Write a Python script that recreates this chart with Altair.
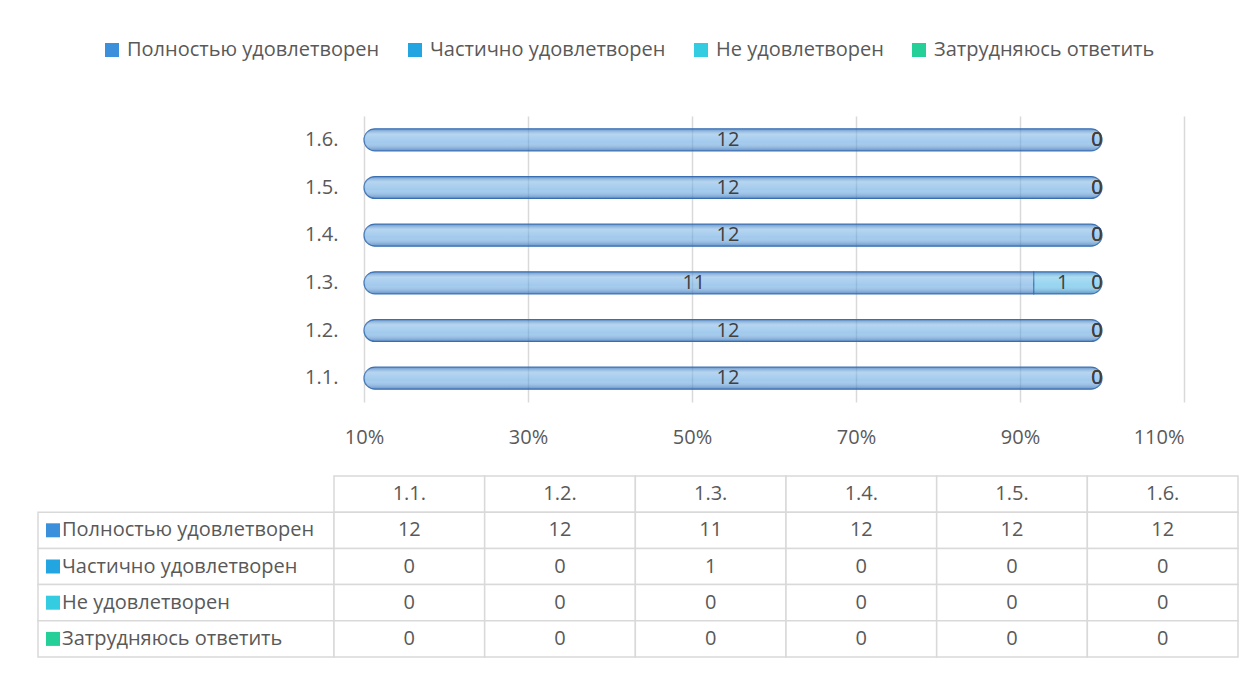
import altair as alt
import pandas as pd

# ---------------- data ----------------
categories = ["1.1.", "1.2.", "1.3.", "1.4.", "1.5.", "1.6."]
series = ["Полностью удовлетворен", "Частично удовлетворен", "Не удовлетворен", "Затрудняюсь ответить"]
fully = [12, 12, 11, 12, 12, 12]
partly = [0, 0, 1, 0, 0, 0]
not_satisfied = [0, 0, 0, 0, 0, 0]
hard_to_say = [0, 0, 0, 0, 0, 0]
x_ticks = [0.1, 0.3, 0.5, 0.7, 0.9, 1.1]
colors = ["#3C8FDA", "#22A5E0", "#33CCE0", "#25CF98"]

values_by_series = [fully, partly, not_satisfied, hard_to_say]

rows = []
for si, (s, vals) in enumerate(zip(series, values_by_series)):
    for c, v in zip(categories, vals):
        rows.append({"category": c, "series": s, "order": si, "value": v})
df = pd.DataFrame(rows)

# ---------------- style / layout ----------------
FONT = "Open Sans"
FS = 20
TXT = "#595959"
AXIS_MIN = 0.1
XMIN = 0.1 - 326 / 820.0
LABEL_W = 296 / 150.67

legend = alt.Legend(
    title=None, orient="none", legendX=64, legendY=-76, direction="horizontal",
    symbolType="square", symbolSize=196, symbolOpacity=1, symbolStrokeWidth=0,
    labelFont=FONT, labelFontSize=FS, labelColor=TXT, columnPadding=25,
    labelOffset=5, labelLimit=400,
)
color = alt.Color("series:N", scale=alt.Scale(domain=series, range=colors), legend=legend)

x_axis = alt.Axis(
    values=x_ticks, format=".0%", title=None, domain=False, ticks=False, grid=True,
    gridColor="#D9D9D9", gridWidth=1.5, labelPadding=25, labelFont=FONT,
    labelFontSize=FS, labelColor=TXT,
)
y_axis = alt.Axis(
    title=None, domain=False, ticks=False, labelPadding=8, offset=-308,
    labelFont=FONT, labelFontSize=FS, labelColor=TXT,
)


def xenc(field):
    return alt.X(field, scale=alt.Scale(domain=[XMIN, 1.1], nice=False, zero=False), axis=x_axis)


yenc = alt.Y(
    "category:N", sort=categories[::-1],
    scale=alt.Scale(paddingInner=0.54, paddingOuter=0.27), axis=y_axis,
)

stacked = alt.Chart(df).transform_stack(
    stack="value", groupby=["category"], as_=["s0", "s1"], offset="normalize",
    sort=[alt.SortField("order", order="ascending")],
).transform_calculate(
    x0=f"max(datum.s0, {AXIS_MIN})",
    x1=f"max(datum.s1, {AXIS_MIN})",
    mid=f"(max(datum.s0, {AXIS_MIN}) + max(datum.s1, {AXIS_MIN})) / 2",
)
nonzero = stacked.transform_filter("datum.value > 0")

left_r = alt.ExprRef(expr="datum.s0 <= 0.1 ? 11 : 0")
right_r = alt.ExprRef(expr="(datum.s1 >= 0.9999 && datum.s0 < 0.9999) ? 11 : 0")

bars = nonzero.mark_bar(
    fillOpacity=0.5, stroke="#3F74B5", strokeWidth=1.2,
    cornerRadiusTopLeft=left_r, cornerRadiusBottomLeft=left_r,
    cornerRadiusTopRight=right_r, cornerRadiusBottomRight=right_r,
).encode(x=xenc("x0:Q"), x2="x1:Q", y=yenc, color=color)

gloss = nonzero.mark_bar(
    fill={
        "gradient": "linear", "x1": 0, "y1": 0, "x2": 0, "y2": 1,
        "stops": [
            {"offset": 0, "color": "rgba(40,90,160,0.45)"},
            {"offset": 0.25, "color": "rgba(255,255,255,0.25)"},
            {"offset": 0.6, "color": "rgba(255,255,255,0.05)"},
            {"offset": 1, "color": "rgba(40,90,160,0.5)"},
        ],
    },
    strokeWidth=0,
    cornerRadiusTopLeft=left_r, cornerRadiusBottomLeft=left_r,
    cornerRadiusTopRight=right_r, cornerRadiusBottomRight=right_r,
).encode(x=xenc("x0:Q"), x2="x1:Q", y=yenc)

labels = stacked.mark_text(font=FONT, fontSize=FS, color="#404040", dx=-5).encode(
    x=xenc("mid:Q"), y=yenc, text="value:Q"
)

bar_chart = alt.layer(bars, gloss, labels).properties(width=1146, height=286)

# ---------------- data table ----------------
trows = []
for i, c in enumerate(categories):
    trows.append({"row": "hdr", "x0": i, "x1": i + 1, "text": c, "kind": "cell", "series": ""})
for s, vals in zip(series, values_by_series):
    trows.append({"row": s, "x0": -LABEL_W, "x1": 0, "text": s, "kind": "label", "series": s})
    for i, v in enumerate(vals):
        trows.append({"row": s, "x0": i, "x1": i + 1, "text": str(v), "kind": "cell", "series": s})
tdf = pd.DataFrame(trows)

tscale = alt.Scale(domain=[-LABEL_W, 6], nice=False, zero=False)
tx = alt.X("x0:Q", scale=tscale, axis=None)
ty = alt.Y("row:N", sort=["hdr"] + series, scale=alt.Scale(paddingInner=0, paddingOuter=0), axis=None)

tbase = alt.Chart(tdf)
cells = tbase.mark_rect(fill="white", stroke="#D9D9D9", strokeWidth=1.5).encode(x=tx, x2="x1:Q", y=ty)
cell_text = tbase.transform_filter("datum.kind == 'cell'").transform_calculate(
    xm="(datum.x0 + datum.x1) / 2"
).mark_text(font=FONT, fontSize=FS, color=TXT).encode(
    x=alt.X("xm:Q", scale=tscale, axis=None), y=ty, text="text:N"
)
label_text = tbase.transform_filter("datum.kind == 'label'").mark_text(
    font=FONT, fontSize=FS, color=TXT, align="left", dx=24
).encode(x=tx, y=ty, text="text:N")
squares = tbase.transform_filter("datum.kind == 'label'").mark_square(
    size=196, xOffset=15, opacity=1
).encode(x=tx, y=ty, color=color)

table = alt.layer(cells, cell_text, label_text, squares).properties(width=1200, height=181)

chart = alt.vconcat(bar_chart, table, spacing=28).properties(
    padding={"left": 29, "top": 32, "right": 10, "bottom": 10}
).configure(font=FONT).configure_view(stroke=None)

chart.save("out.html", embed_options={"renderer": "svg", "actions": False})
